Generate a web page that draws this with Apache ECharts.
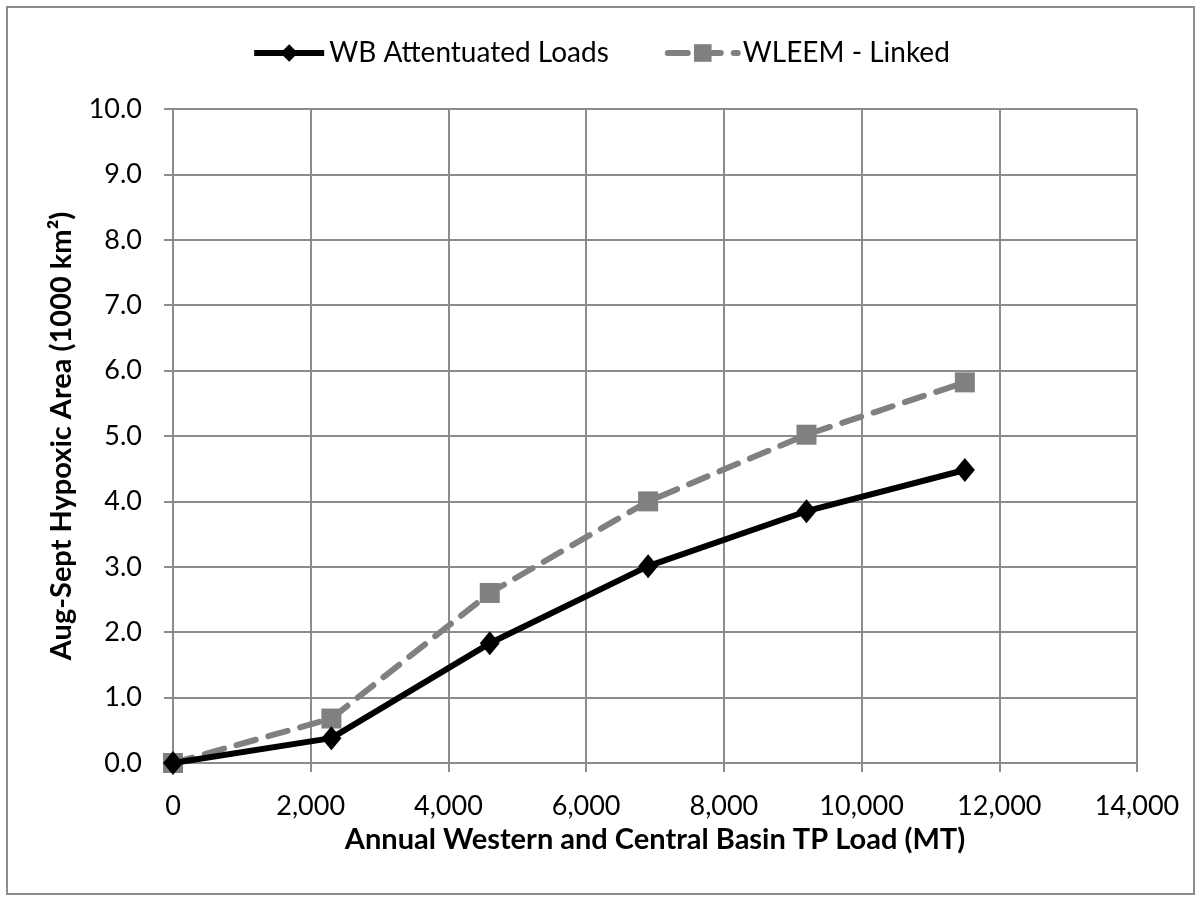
<!DOCTYPE html>
<html>
<head>
<meta charset="utf-8">
<script src="https://cdn.jsdelivr.net/npm/echarts@6/dist/echarts.min.js"></script>
<style>
  html, body { margin: 0; padding: 0; background: #fff; }
  #chart { width: 1201px; height: 901px; }
</style>
</head>
<body>
<div id="chart"></div>
<script>
// loads (MT) and hypoxic area (1000 km2)
var loads = [0, 2300, 4600, 6900, 9200, 11500];
var wbAttenuated = [0, 0.38, 1.83, 3.01, 3.85, 4.48];
var wleemLinked = [0, 0.68, 2.6, 4.0, 5.02, 5.82];
var seriesNames = ['WB Attentuated Loads', 'WLEEM - Linked'];

function pairs(xs, ys) {
    var out = [];
    for (var i = 0; i < xs.length; i++) {
        out.push([xs[i], ys[i]]);
    }
    return out;
}

var font = 'Lato, "Liberation Sans", sans-serif';
var gridColor = '#8c8c8c';

var chart = echarts.init(document.getElementById('chart'), null, { renderer: 'canvas' });
var option = {
    backgroundColor: '#fff',
    animation: false,
    textStyle: { fontFamily: font },
    graphic: [{
        type: 'rect',
        shape: { x: 7, y: 7, width: 1187, height: 887 },
        style: { fill: 'none', stroke: '#8c8c8c', lineWidth: 2 }
    }],
    legend: {
        top: 34,
        left: 'center',
        itemWidth: 70,
        itemHeight: 22,
        itemGap: 56,
        data: seriesNames,
        lineStyle: { width: 6 },
        textStyle: { fontSize: 28, color: '#000', fontFamily: font }
    },
    grid: { left: 173, right: 64, top: 109, bottom: 138 },
    xAxis: {
        type: 'value',
        min: 0,
        max: 14000,
        interval: 2000,
        name: 'Annual Western and Central Basin TP Load (MT)',
        nameLocation: 'middle',
        nameGap: 62,
        nameTextStyle: { fontSize: 29, fontWeight: 'bold', color: '#000', fontFamily: font },
        axisLine: { lineStyle: { color: gridColor, width: 2 } },
        axisTick: { show: true, length: 9, lineStyle: { color: gridColor, width: 2 } },
        axisLabel: {
            fontSize: 27, color: '#000', margin: 30,
            formatter: function (v) { return v.toLocaleString('en-US'); }
        },
        splitLine: { show: true, lineStyle: { color: gridColor, width: 2 } }
    },
    yAxis: {
        type: 'value',
        min: 0,
        max: 10,
        interval: 1,
        name: 'Aug-Sept Hypoxic Area (1000 km\u00B2)',
        nameLocation: 'middle',
        nameGap: 97,
        nameTextStyle: { fontSize: 29, fontWeight: 'bold', color: '#000', fontFamily: font },
        axisLine: { show: true, lineStyle: { color: gridColor, width: 2 } },
        axisTick: { show: true, length: 9, lineStyle: { color: gridColor, width: 2 } },
        axisLabel: {
            fontSize: 27, color: '#000', margin: 31,
            formatter: function (v) { return v.toFixed(1); }
        },
        splitLine: { show: true, lineStyle: { color: gridColor, width: 2 } }
    },
    series: [
        {
            name: seriesNames[0],
            type: 'line',
            data: pairs(loads, wbAttenuated),
            symbol: 'diamond',
            symbolSize: [20, 24],
            z: 3,
            itemStyle: { color: '#000' },
            lineStyle: { color: '#000', width: 6 }
        },
        {
            name: seriesNames[1],
            type: 'line',
            data: pairs(loads, wleemLinked),
            symbol: 'rect',
            symbolSize: 20,
            z: 2,
            itemStyle: { color: '#808080' },
            lineStyle: { color: '#808080', width: 6, type: [20, 13], cap: 'round' }
        }
    ]
};
chart.setOption(option);
</script>
</body>
</html>
